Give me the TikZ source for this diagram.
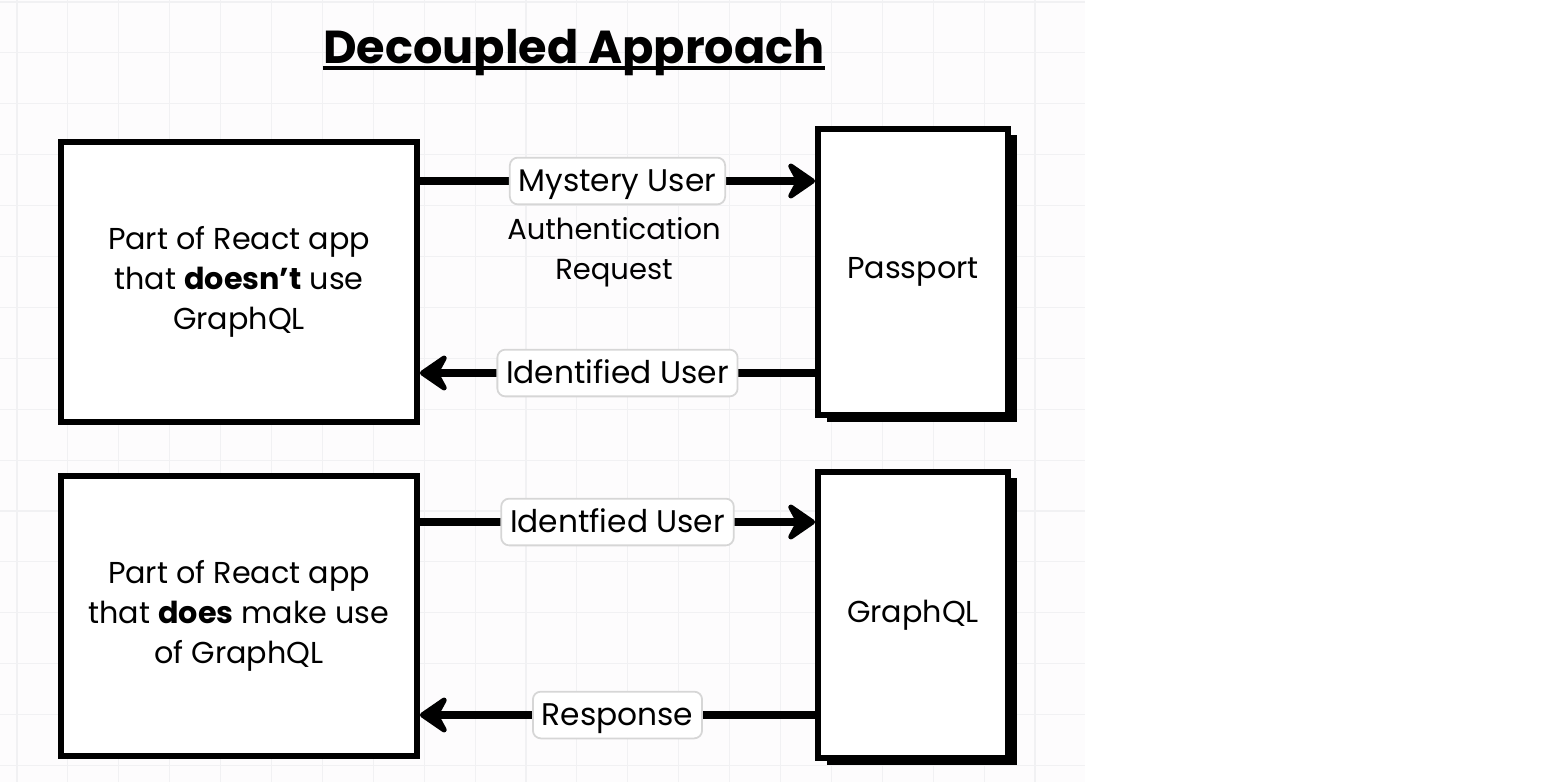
\documentclass[tikz,border=0pt]{standalone}
\usepackage{fontspec}
\setmainfont{Poppins}
\usetikzlibrary{arrows.meta,calc,positioning,shadows}
\definecolor{paper}{RGB}{253,252,253}
\definecolor{gridline}{RGB}{241,241,243}
\definecolor{tagline}{RGB}{214,214,214}

\begin{document}
\begin{tikzpicture}[x=0.02cm,y=-0.02cm,
  part/.style={draw,line width=3.4pt,fill=white,minimum width=7.12cm,minimum height=5.6cm,align=center,font=\fontsize{17.2}{22.8}\selectfont},
  serv/.style={draw,line width=3.4pt,fill=white,minimum width=3.8cm,minimum height=5.74cm,font=\fontsize{17.2}{22.8}\selectfont,
    general shadow={fill=black,shadow xshift=5pt,shadow yshift=-3.5pt}},
  flow/.style={line width=4.8pt,-{Stealth[length=19pt,width=26pt,inset=7pt,round]}},
  tag/.style={draw=tagline,line width=1pt,fill=white,rounded corners=4.5pt,inner xsep=5pt,inner ysep=4.8pt,
    text height=14.5pt,text depth=2.5pt,font=\fontsize{17.8}{20}\selectfont}]
        \useasboundingbox (0,0) rectangle (1556,782);
        %%%%%%%%%%%%%%%%%%%%%%%%%%%grid%%%%%%%%%%%%%%%%%%%%%%
          \fill[paper] (0,0) rectangle (1085,782);
          \foreach \k in {0,...,20}
            \draw[gridline,line width=0.6pt] ({17+50.9*\k},0) -- ({17+50.9*\k},782);
          \foreach \k in {0,...,15}
            \draw[gridline,line width=0.6pt] (0,{2+50.9*\k}) -- (1085,{2+50.9*\k});
        %%%%%%%%%%%%%%%%%%%%%%%%%%%title%%%%%%%%%%%%%%%%%%%%%
          \node (title) at (574,63) [anchor=base,inner sep=0pt,font=\fontsize{26.3}{30}\selectfont\bfseries] {Decoupled Approach};
          \draw[line width=2.2pt] ($(title.base west)+(0,5)$) -- ($(title.base east)+(0,5)$);
        %%%%%%%%%%%%%%%%%%%%%%%%%%%passport%%%%%%%%%%%%%%%%%%
          \node (app1) at (239,282) [part] {Part of React app\\that \textbf{doesn't} use\\GraphQL};
          \node (pass) at (913,272) [serv] {Passport};

          \coordinate (m1) at ($(app1.east)+(0,-101)$);
          \coordinate (m2) at ($(app1.east)+(0,91)$);
          \draw[flow] (m1) -- (m1 -| pass.west) node[midway,tag] {Mystery User};
          \node (auth) at (614,252) [align=center,font=\fontsize{16.5}{22.5}\selectfont] {Authentication\\Request};
          \draw[flow] (m2 -| pass.west) -- (m2) node[midway,tag] {Identified User};
        %%%%%%%%%%%%%%%%%%%%%%%%%%%graphql%%%%%%%%%%%%%%%%%%%
          \node (app2) at (239,616) [part] {Part of React app\\that \textbf{does} make use\\of GraphQL};
          \node (gql) at (913,615) [serv] {GraphQL};

          \coordinate (m3) at ($(app2.east)+(0,-94)$);
          \coordinate (m4) at ($(app2.east)+(0,99)$);
          \draw[flow] (m3) -- (m3 -| gql.west) node[midway,tag] {Identfied User};
          \draw[flow] (m4 -| gql.west) -- (m4) node[midway,tag] {Response};
        \end{tikzpicture}
\end{document}
